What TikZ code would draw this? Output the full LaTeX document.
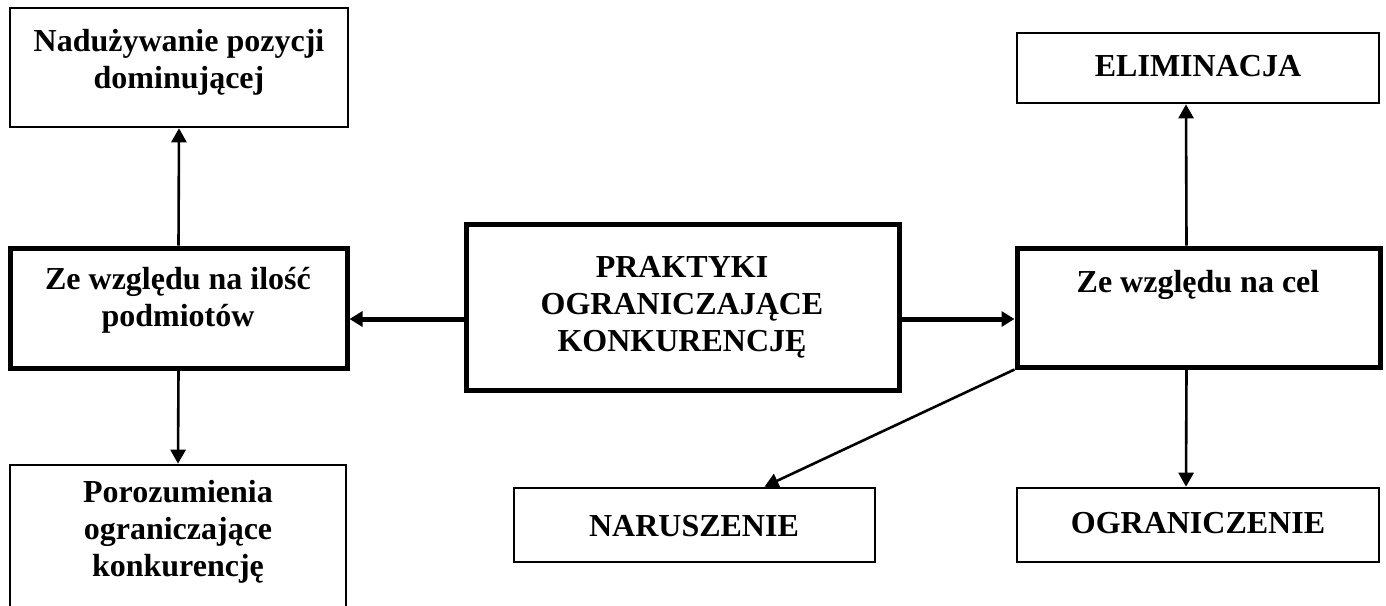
\documentclass[tikz,border=0pt]{standalone}
\usepackage{fontspec}
\setmainfont{Liberation Serif}
\usetikzlibrary{arrows.meta}

\begin{document}
\begin{tikzpicture}[x=0.5pt,y=-0.5pt,
    box/.style 2 args={draw, line width=1.3pt, inner sep=0pt, minimum width=#1*0.5pt, minimum height=#2*0.5pt},
    mainbox/.style={line width=2.5pt},
    txt/.style={font=\bfseries\fontsize{16}{18.5}\selectfont, align=center},
    arr/.style={-{Triangle[length=7pt,width=7.5pt]}, line width=1.3pt},
    bigarr/.style={-{Triangle[length=6.5pt,width=7.5pt]}, line width=2.5pt}]

    \useasboundingbox (0,0) rectangle (1386,605);
    \clip (0,0) rectangle (1386,605);

    % boxes
    \node[box={338}{119}] (naduz) at (179,67.5) {};
    \node[box={337}{120}, mainbox] (ilosc) at (178.5,308) {};
    \node[box={336}{150}] (poroz) at (178,540) {};
    \node[box={433}{166}, mainbox] (prakt) at (682.5,307) {};
    \node[box={363}{119}, mainbox] (cel) at (1198.5,307.5) {};
    \node[box={362}{70}] (elim) at (1198,68) {};
    \node[box={362}{74}] (ogran) at (1198,525) {};
    \node[box={361}{74}] (narusz) at (694.5,525) {};

    % texts
    \node[txt] (naduz-t) at (179,62) {Nadużywanie pozycji\\dominującej};
    \node[txt] (ilosc-t) at (178,300) {Ze względu na ilość\\podmiotów};
    \node[txt] (poroz-t) at (178,532) {Porozumienia\\ograniczające\\konkurencję};
    \node[txt] (prakt-t) at (682,307) {PRAKTYKI\\OGRANICZAJĄCE\\KONKURENCJĘ};
    \node[txt] (cel-t) at (1198,285) {Ze względu na cel};
    \node[txt] (elim-t) at (1198,66) {ELIMINACJA};
    \node[txt] (ogran-t) at (1198,523) {OGRANICZENIE};
    \node[txt] (narusz-t) at (694,526) {NARUSZENIE};

    % arrows
    \draw[bigarr] ([yshift=-6pt]prakt.west) -- ([yshift=-6pt]prakt.west -| ilosc.east);
    \draw[bigarr] ([yshift=-6pt]prakt.east) -- ([yshift=-6pt]prakt.east -| cel.west);
    \draw[arr] (ilosc.north) -- (naduz.south);
    \draw[arr] (ilosc.south) -- (poroz.north);
    \draw[arr] ([xshift=-6pt]cel.north) -- ([xshift=-6pt]elim.south);
    \draw[arr] ([xshift=-6pt]cel.south) -- ([xshift=-6pt]ogran.north);
    \draw[arr] (cel.south west) -- ([xshift=35pt]narusz.north);

\end{tikzpicture}
\end{document}
